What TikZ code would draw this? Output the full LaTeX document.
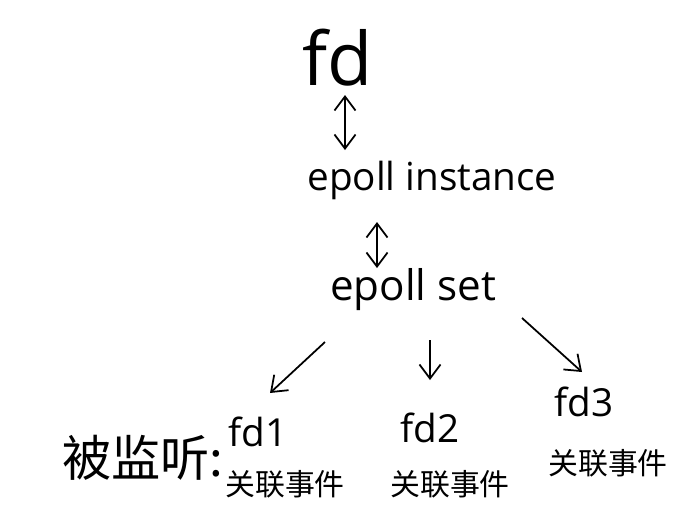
\documentclass[tikz,border=0pt]{standalone}
\usepackage{fontspec}
\setmainfont{Open Sans}
\newfontfamily\cjk{Noto Sans CJK SC}
\usetikzlibrary{calc,arrows.meta}

\begin{document}
\begin{tikzpicture}[x=0.02cm,y=-0.02cm,
lbl/.style={
  inner sep=0pt,
  font={\fontsize{22pt}{24pt}\selectfont}},
big/.style={lbl,font={\fontsize{42pt}{44pt}\selectfont}},
mid/.style={lbl,font={\fontsize{22pt}{24pt}\selectfont}},
setl/.style={lbl,font={\fontsize{24pt}{26pt}\selectfont}},
evt/.style={lbl,font={\cjk\fontsize{17pt}{19pt}\selectfont}},
side/.style={lbl,anchor=east,font={\cjk\fontsize{28pt}{30pt}\selectfont}},
link/.style={line width=1pt,-{Straight Barb[length=8pt,width=12pt]}},
both/.style={link,{Straight Barb[length=8pt,width=12pt]}-{Straight Barb[length=8pt,width=12pt]}},
]
\useasboundingbox (0,0) rectangle (700,525);
\node[big] (fd) at (338,58) {fd};
\node[mid] (inst) at (432,180) {epoll instance};
\node[setl] (set) at (413,290) {epoll set};
\node[lbl] (fd1) at (258,432) {fd1};
\node[lbl] (fd2) at (430,428) {fd2};
\node[lbl] (fd3) at (584,402) {fd3};
\node[evt] (ev1) at (285,484) {关联事件};
\node[evt] (ev2) at (450,484) {关联事件};
\node[evt] (ev3) at (608,463) {关联事件};
\node[side] (lab) at (224,458) {被监听:};
\draw[both] ($(fd)+(7,37)$) -- ($(inst)+(-87,-30)$);
\draw[both] ($(inst)+(-55,42)$) -- ($(set)+(-36,-22)$);
\draw[link] ($(set)+(-88,52)$) -- ($(fd1)+(12,-39)$);
\draw[link] ($(set)+(17,50)$) -- ($(fd2)+(0,-48)$);
\draw[link] ($(set)+(109,28)$) -- ($(fd3)+(-2,-30)$);
\end{tikzpicture}
\end{document}
